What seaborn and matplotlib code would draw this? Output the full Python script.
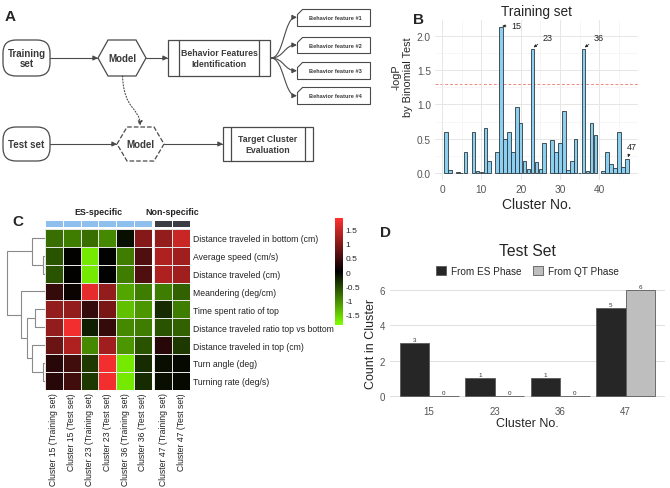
import numpy as np
import pandas as pd
import matplotlib
matplotlib.use("Agg")
import matplotlib.pyplot as plt
import seaborn as sns
from matplotlib.colors import LinearSegmentedColormap, ListedColormap, Normalize
from matplotlib.patches import FancyBboxPatch, Polygon, Rectangle, FancyArrowPatch
from matplotlib.path import Path
from matplotlib.cm import ScalarMappable

# Daten für Panel B (Training set)
cluster_nr = list(range(1, 48))
neg_log_p = [0.60, 0.05, np.nan, 0.015, 0.005, 0.30, np.nan, 0.60, 0.025, 0.01,
             0.65, 0.18, np.nan, 0.30, 2.12, 0.50, 0.60, 0.30, 0.96, 0.73,
             0.18, 0.06, 1.81, 0.16, 0.06, 0.44, np.nan, 0.48, 0.30, 0.44,
             0.90, 0.04, 0.18, 0.50, 0.005, 1.81, 0.03, 0.73, 0.55, np.nan,
             0.03, 0.30, 0.13, 0.07, 0.60, 0.09, 0.21]
markierte_cluster = [15, 23, 36, 47]
grenzwert = 1.3  # -log10(0.05)

# Daten für Panel C (Heatmap)
merkmale = ["Distance traveled in bottom (cm)", "Average speed (cm/s)", "Distance traveled (cm)",
            "Meandering (deg/cm)", "Time spent ratio of top", "Distance traveled ratio top vs bottom",
            "Distance traveled in top (cm)", "Turn angle (deg)", "Turning rate (deg/s)"]
spalten = ["Cluster 15 (Training set)", "Cluster 15 (Test set)", "Cluster 23 (Training set)",
           "Cluster 23 (Test set)", "Cluster 36 (Training set)", "Cluster 36 (Test set)",
           "Cluster 47 (Training set)", "Cluster 47 (Test set)"]
z_werte = [[-0.8, -0.9, -0.8, -1.0, -0.1, 1.0, 1.1, 1.5],
           [-0.6, 0.0, -1.7, 0.0, -0.9, 0.6, 1.3, 1.2],
           [-0.6, 0.0, -1.7, 0.0, -0.9, 0.6, 1.3, 1.2],
           [0.4, 0.1, 1.7, 1.1, -1.2, -0.9, -0.9, -0.7],
           [1.1, 1.1, 0.4, 0.9, -1.4, -1.1, -0.3, -0.9],
           [1.1, 1.8, -0.2, 0.4, -1.0, -0.9, -0.6, -0.7],
           [0.8, 1.3, -1.0, 1.2, -1.1, -0.6, 0.3, -0.4],
           [0.3, 0.5, -0.4, 1.8, -1.7, -0.3, -0.1, -0.05],
           [0.3, 0.5, -0.4, 1.8, -1.7, -0.3, -0.1, -0.05]]
gruppen = [0, 0, 0, 0, 0, 0, 1, 1]  # 0 = ES-specific, 1 = Non-specific
gruppen_namen = ["ES-specific", "Non-specific"]
# Dendrogramm: (Kind a, Kind b, Höhe), neue Knoten ab Index 9
verknuepfung = [(1, 2, 5), (0, 9, 38), (7, 8, 5), (6, 11, 38),
                (4, 5, 30), (13, 12, 55), (3, 14, 73), (10, 15, 113)]

# Daten für Panel D (Test Set)
test_cluster = ["15", "23", "36", "47"]
anzahl_es = [3, 1, 1, 5]
anzahl_qt = [0, 0, 0, 6]

sns.set_theme(style="white")
plt.rcParams["font.family"] = ["Liberation Sans", "DejaVu Sans"]

W, H = 670, 489  # Bildgröße in Pixel
fig = plt.figure(figsize=(W / 100, H / 100), dpi=100)


def achse(l, t, r, b):
    """Achse über Pixelkoordinaten (links, oben, rechts, unten) anlegen."""
    return fig.add_axes([l / W, 1 - b / H, (r - l) / W, (b - t) / H])


def fig_text(x, y, s, **kw):
    fig.text(x / W, 1 - y / H, s, **kw)


# ---------------- Panel A: Flussdiagramm ----------------
axA = achse(0, 0, 380, 175)
axA.set_xlim(0, 380)
axA.set_ylim(175, 0)
axA.axis("off")
lc = "#4a4a4a"  # Linienfarbe
tc = "#3a3a3a"  # Textfarbe


def abgerundet(x0, y0, x1, y1, text):
    axA.add_patch(FancyBboxPatch((x0, y0), x1 - x0, y1 - y0, boxstyle="round,pad=0,rounding_size=13",
                                 fc="white", ec=lc, lw=0.9))
    axA.text((x0 + x1) / 2, (y0 + y1) / 2, text, ha="center", va="center", fontsize=7,
             fontweight="bold", color=tc, linespacing=1.1)


def sechseck(x0, y0, x1, y1, text, ls="-"):
    ym = (y0 + y1) / 2
    pts = [(x0, ym), (x0 + 10, y0), (x1 - 10, y0), (x1, ym), (x1 - 10, y1), (x0 + 10, y1)]
    axA.add_patch(Polygon(pts, closed=True, fc="white", ec=lc, lw=0.9, ls=ls))
    axA.text((x0 + x1) / 2, ym, text, ha="center", va="center", fontsize=7, fontweight="bold", color=tc)


def prozess(x0, y0, x1, y1, innen, text):
    axA.add_patch(Rectangle((x0, y0), x1 - x0, y1 - y0, fc="white", ec=lc, lw=0.9))
    axA.plot([x0 + innen, x0 + innen], [y0, y1], color=lc, lw=0.9)
    axA.plot([x1 - innen, x1 - innen], [y0, y1], color=lc, lw=0.9)
    axA.text((x0 + x1) / 2, (y0 + y1) / 2, text, ha="center", va="center", fontsize=6.3,
             fontweight="bold", color=tc, linespacing=1.25)


def pfeil(punkte, ls="-"):
    codes = [Path.MOVETO] + ([Path.LINETO] if len(punkte) == 2 else [Path.CURVE4] * 3)
    axA.add_patch(FancyArrowPatch(path=Path(punkte, codes), arrowstyle="-|>", mutation_scale=7,
                                  color=lc, lw=0.8, ls=ls, shrinkA=0, shrinkB=0))


abgerundet(3, 41, 50, 77, "Training\nset")
abgerundet(3, 128, 50, 162, "Test set")
sechseck(98, 41, 146, 77, "Model")
sechseck(117, 128, 164, 162, "Model", ls="--")
prozess(168, 41, 270, 77, 11, "Behavior Features\nIdentification")
prozess(223, 128, 313, 162, 8, "Target Cluster\nEvaluation")

pfeil([(50, 59), (98, 59)])
pfeil([(146, 59), (168, 59)])
pfeil([(50, 145), (117, 145)])
pfeil([(164, 145), (223, 145)])
pfeil([(122.5, 77), (124, 112), (140, 108), (140, 127)], ls=":")

for i, yc in enumerate([18.3, 46, 71.7, 96.7]):
    x0, x1, y0, y1 = 297, 370, yc - 8.3, yc + 8.3
    axA.add_patch(Polygon([(x0 + 5, y0), (x1, y0), (x1, y1), (x0, y1), (x0, y0 + 5)],
                          closed=True, fc="white", ec=lc, lw=0.8))
    axA.text((x0 + x1) / 2 + 1.5, yc, f"Behavior feature #{i + 1}", ha="center", va="center",
             fontsize=4.1, fontweight="bold", color=tc)
    pfeil([(271, 59), (284, 59), (284, yc), (297, yc)])

fig_text(10, 17, "A", fontsize=11, fontweight="bold", ha="center", va="center")

# ---------------- Panel B: Training set ----------------
axB = achse(435, 21.2, 637.8, 181.3)
sns.barplot(x=cluster_nr, y=neg_log_p, native_scale=True, width=0.9, color="#8ccfee",
            saturation=1, edgecolor="#2a3840", linewidth=0.6, errorbar=None, ax=axB)
axB.axhline(grenzwert, color="#f08a80", ls=(0, (3, 2)), lw=0.7, zorder=0.5)
axB.set_xlim(-1.8, 49.8)
axB.set_ylim(-0.106, 2.226)
axB.set_xticks([0, 10, 20, 30, 40])
axB.set_xticks([5, 15, 25, 35, 45], minor=True)
axB.set_yticks([0, 0.5, 1.0, 1.5, 2.0])
axB.set_yticklabels(["0.0", "0.5", "1.0", "1.5", "2.0"])
axB.set_yticks([0.25, 0.75, 1.25, 1.75], minor=True)
axB.grid(which="major", color="#e6e6e6", lw=0.7)
axB.grid(which="minor", color="#f0f0f0", lw=0.4)
axB.set_axisbelow(True)
axB.tick_params(which="both", length=0, labelsize=7.3, labelcolor="#555555", pad=3)
sns.despine(ax=axB, left=True, bottom=True)
axB.set_title("Training set", fontsize=9.8, pad=4)
axB.set_xlabel("Cluster No.", fontsize=10, labelpad=2)
axB.set_ylabel("-logP\nby Binomial Test", fontsize=7.8, linespacing=1.15)
axB.yaxis.set_label_coords(-0.11, 0.65)

# Beschriftung der markierten Cluster mit Pfeilen
werte = dict(zip(cluster_nr, neg_log_p))
versatz = {15: (2.5, 0.03), 23: (2.5, 0.17), 36: (2.5, 0.17), 47: (1.2, 0.17)}
for c in markierte_cluster:
    dx, dy = versatz[c]
    axB.annotate(str(c), xy=(c + 0.3, werte[c] + 0.02), xytext=(c + dx, werte[c] + dy),
                 fontsize=6.5, color="#222222", ha="left" if c != 47 else "center", va="center",
                 arrowprops=dict(arrowstyle="-|>", color="#222222", lw=0.5, mutation_scale=4,
                                 shrinkA=1, shrinkB=0))

fig_text(418, 20, "B", fontsize=11, fontweight="bold", ha="center", va="center")

# ---------------- Panel C: Heatmap ----------------
df_z = pd.DataFrame(z_werte, index=merkmale, columns=spalten)
farbskala = LinearSegmentedColormap.from_list("gsr", ["#80ff00", "#000000", "#ff3030"])
norm = Normalize(vmin=-1.87, vmax=1.9)

ax_links = achse(45, 230, 151.7, 390.7)
ax_rechts = achse(154.3, 230, 190, 390.7)
for ax, teil in [(ax_links, df_z.iloc[:, :6]), (ax_rechts, df_z.iloc[:, 6:])]:
    sns.heatmap(teil, ax=ax, cmap=farbskala, norm=norm, cbar=False, linewidths=0.5,
                linecolor="#e6e6e6", xticklabels=True, yticklabels=(ax is ax_rechts))
    ax.tick_params(length=0, labelsize=6.2, labelcolor="#222222", pad=2)
    ax.set_xticklabels(teil.columns, rotation=90)
    ax.set_xlabel("")
    ax.set_ylabel("")
ax_rechts.yaxis.tick_right()
ax_rechts.set_yticklabels(merkmale, rotation=0)
ax_rechts.tick_params(length=0, labelsize=6.2, pad=2)

# Annotationsleiste oberhalb
anno_farben = ListedColormap(["#8fbfec", "#3c3c44"])
for ax, teil, mitte in [(achse(45, 220.7, 151.7, 227.7), gruppen[:6], 98.3),
                        (achse(154.3, 220.7, 190, 227.7), gruppen[6:], 172)]:
    sns.heatmap([teil], ax=ax, cmap=anno_farben, vmin=0, vmax=1, cbar=False, linewidths=0.7,
                linecolor="white", xticklabels=False, yticklabels=False)
    fig_text(mitte, 213, gruppen_namen[teil[0]], fontsize=6.4, fontweight="bold",
             ha="center", va="center", color="#222222")

# Dendrogramm der Zeilen
ax_dendro = achse(5, 230, 45, 390.7)
pos = {i: i + 0.5 for i in range(len(merkmale))}
hoehe = {i: 0 for i in range(len(merkmale))}
for k, (a, b, h) in enumerate(verknuepfung):
    ax_dendro.plot([hoehe[a], h, h, hoehe[b]], [pos[a], pos[a], pos[b], pos[b]], color="#8a8a8a", lw=0.8)
    pos[len(merkmale) + k] = (pos[a] + pos[b]) / 2
    hoehe[len(merkmale) + k] = h
ax_dendro.set_xlim(120, 0)
ax_dendro.set_ylim(len(merkmale), 0)
ax_dendro.axis("off")

# Farbskala
cax = achse(335, 219.3, 342.7, 326)
cb = fig.colorbar(ScalarMappable(norm=norm, cmap=farbskala), cax=cax)
cb.outline.set_visible(False)
cb.set_ticks([-1.5, -1, -0.5, 0, 0.5, 1, 1.5])
cb.set_ticklabels(["-1.5", "-1", "-0.5", "0", "0.5", "1", "1.5"])
cax.tick_params(length=0, labelsize=6, pad=2)

fig_text(18, 222, "C", fontsize=11, fontweight="bold", ha="center", va="center")

# ---------------- Panel D: Test Set ----------------
df_test = pd.DataFrame({
    "Cluster": test_cluster * 2,
    "Anzahl": anzahl_es + anzahl_qt,
    "Phase": ["From ES Phase"] * len(test_cluster) + ["From QT Phase"] * len(test_cluster),
})
axD = achse(389.7, 285.8, 665, 402)
sns.barplot(data=df_test, x="Cluster", y="Anzahl", hue="Phase", palette=["#262626", "#bebebe"],
            width=0.9, saturation=1, edgecolor="#5a5a5a", linewidth=0.6, errorbar=None, ax=axD)
for cont in axD.containers:
    axD.bar_label(cont, fontsize=4.5, padding=0.5, color="#333333")
axD.set_xlim(-0.6, 3.6)
axD.set_ylim(-0.3, 6.3)
axD.set_yticks([0, 2, 4, 6])
axD.grid(axis="y", color="#dedede", lw=0.7)
axD.set_axisbelow(True)
axD.tick_params(length=2, color="#aaaaaa", labelsize=7, labelcolor="#555555", pad=1.5)
sns.despine(ax=axD, left=True, bottom=True)
axD.set_xlabel("Cluster No.", fontsize=9, labelpad=1)
axD.set_ylabel("Count in Cluster", fontsize=9, labelpad=2)
sns.move_legend(axD, "center", bbox_to_anchor=(0.5, 1.12), ncol=2, title=None, frameon=False,
                fontsize=7.2, handlelength=1.0, handleheight=1.0, columnspacing=1.2, handletextpad=0.5)
fig_text(527, 252, "Test Set", fontsize=11.3, ha="center", va="center")
fig_text(386, 233, "D", fontsize=11, fontweight="bold", ha="center", va="center")

fig.savefig("out.png", dpi=100)
